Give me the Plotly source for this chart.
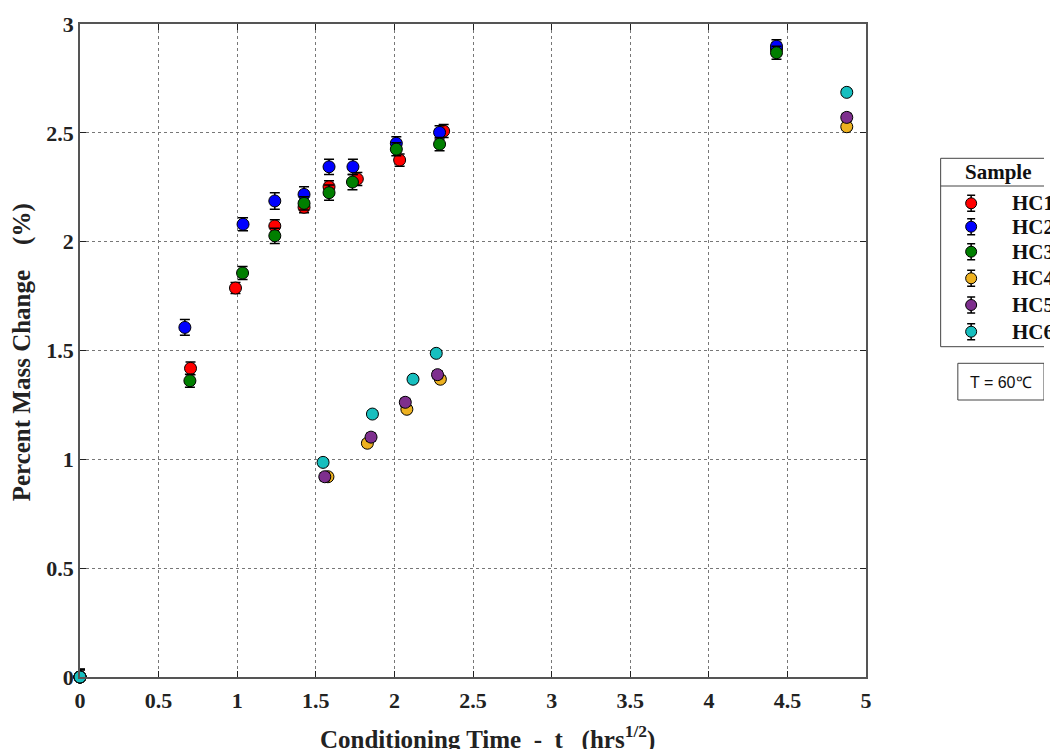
import plotly.graph_objects as go

# Conditioning time (sqrt hours) and percent mass change for each sample
t_hc1 = [0, 0.703, 0.989, 1.239, 1.425, 1.584, 1.764, 2.033, 2.313, 4.43]
m_hc1 = [0, 1.418, 1.787, 2.072, 2.158, 2.252, 2.288, 2.375, 2.508, 2.885]
e_hc1 = [0.035, 0.029, 0.025, 0.029, 0.025, 0.028, 0.030, 0.028, 0.030, 0.030]

t_hc2 = [0, 0.667, 1.037, 1.239, 1.425, 1.584, 1.736, 2.012, 2.287, 4.43]
m_hc2 = [0, 1.606, 2.080, 2.187, 2.217, 2.344, 2.344, 2.452, 2.502, 2.898]
e_hc2 = [0.035, 0.036, 0.030, 0.038, 0.035, 0.035, 0.035, 0.030, 0.030, 0.030]

t_hc3 = [0, 0.699, 1.034, 1.239, 1.425, 1.584, 1.733, 2.012, 2.287, 4.43]
m_hc3 = [0, 1.361, 1.856, 2.027, 2.176, 2.225, 2.274, 2.425, 2.448, 2.868]
e_hc3 = [0.035, 0.030, 0.030, 0.035, 0.030, 0.035, 0.035, 0.030, 0.030, 0.030]

t_hc4 = [0, 1.577, 1.828, 2.079, 2.292, 4.877]
m_hc4 = [0, 0.920, 1.074, 1.230, 1.368, 2.528]
e_hc4 = [0.035, 0.015, 0.015, 0.015, 0.015, 0.015]

t_hc5 = [0, 1.557, 1.851, 2.069, 2.274, 4.877]
m_hc5 = [0, 0.920, 1.102, 1.262, 1.389, 2.571]
e_hc5 = [0.035, 0.018, 0.018, 0.018, 0.018, 0.018]

t_hc6 = [0, 1.546, 1.860, 2.118, 2.266, 4.877]
m_hc6 = [0, 0.986, 1.208, 1.368, 1.487, 2.686]
e_hc6 = [0.035, 0.015, 0.015, 0.015, 0.015, 0.015]

sample_names = ["HC1", "HC2", "HC3", "HC4", "HC5", "HC6"]
sample_colors = ["#FF0000", "#0000FF", "#007F00", "#EDB120", "#7E2F8E", "#17BFBF"]

x_ticks = [0, 0.5, 1, 1.5, 2, 2.5, 3, 3.5, 4, 4.5, 5]
x_tick_text = ["0", "0.5", "1", "1.5", "2", "2.5", "3", "3.5", "4", "4.5", "5"]
y_ticks = [0, 0.5, 1, 1.5, 2, 2.5, 3]
y_tick_text = ["0", "0.5", "1", "1.5", "2", "2.5", "3"]

series = [
    (t_hc1, m_hc1, e_hc1),
    (t_hc2, m_hc2, e_hc2),
    (t_hc3, m_hc3, e_hc3),
    (t_hc4, m_hc4, e_hc4),
    (t_hc5, m_hc5, e_hc5),
    (t_hc6, m_hc6, e_hc6),
]

SERIF = "Liberation Serif, Times New Roman, serif"
SANS = "Liberation Sans, Arial, sans-serif"
W, H = 1050, 749
ML, MT, MB = 80, 24, 72
PLOT_RIGHT = 871  # right edge of the data frame in pixels
area_w = W - ML
area_h = H - MT - MB


def px_x(px):
    return (px - ML) / area_w


def px_y(py):
    return (H - MB - py) / area_h


fig = go.Figure()

for (t, m, e), name, col in zip(series, sample_names, sample_colors):
    fig.add_trace(go.Scatter(
        x=t, y=m, mode="markers", name=name, showlegend=False,
        cliponaxis=False,
        marker=dict(size=12, color=col, line=dict(color="black", width=1)),
        error_y=dict(type="data", array=e, visible=True,
                     color="black", thickness=1.5, width=5),
    ))

# Hand-built legend, drawn in a hidden pixel-space subplot to the right
LEG_X0 = 930
DX = 5  # horizontal offset of the legend block
key_x = 971.7 + DX
row_y = [203.3, 226.7, 251.7, 278.3, 305.0, 331.7]
fig.add_trace(go.Scatter(
    x=[key_x] * len(sample_names), y=row_y, mode="markers",
    xaxis="x2", yaxis="y2", showlegend=False, hoverinfo="skip",
    cliponaxis=False,
    marker=dict(size=11, color=sample_colors, line=dict(color="black", width=1)),
    error_y=dict(type="constant", value=8, visible=True,
                 color="black", thickness=1.5, width=4),
))

tick_font = dict(family=SERIF, size=22, color="#222", weight="bold")
title_font = dict(family=SERIF, size=25, color="#222", weight="bold")

fig.update_layout(
    width=W, height=H,
    margin=dict(l=ML, r=0, t=MT, b=MB),
    paper_bgcolor="white", plot_bgcolor="white",
    font=dict(family=SERIF, color="#222"),
    xaxis=dict(
        domain=[0, px_x(PLOT_RIGHT)],
        range=[0, 5], tickvals=x_ticks, ticktext=x_tick_text,
        showgrid=True, gridcolor="#777", griddash="dot", gridwidth=1,
        zeroline=False, showline=True, linecolor="#555", linewidth=1.5,
        mirror="ticks", ticks="inside", ticklen=6, tickcolor="#222",
        tickfont=tick_font, ticklabelstandoff=3,
    ),
    yaxis=dict(
        domain=[0, 1],
        range=[0, 3], tickvals=y_ticks, ticktext=y_tick_text,
        showgrid=True, gridcolor="#777", griddash="dot", gridwidth=1,
        zeroline=False, showline=True, linecolor="#555", linewidth=1.5,
        mirror="ticks", ticks="inside", ticklen=6, tickcolor="#222",
        tickfont=tick_font,
    ),
    xaxis2=dict(domain=[px_x(LEG_X0), 1], range=[LEG_X0, W],
                visible=False, anchor="y2", fixedrange=True),
    yaxis2=dict(domain=[0, 1], range=[H - MB, MT], visible=False,
                anchor="x2", fixedrange=True),
)

# Axis titles
fig.add_annotation(xref="paper", yref="paper", x=px_x(490), y=px_y(737),
                   text="<b>Conditioning Time  -  t   (hrs<sup>1/2</sup>)</b>",
                   showarrow=False, font=title_font,
                   xanchor="center", yanchor="middle")
fig.add_annotation(xref="paper", yref="paper", x=px_x(22), y=px_y(352),
                   text="<b>Percent Mass Change    (%)</b>", textangle=-90,
                   showarrow=False, font=title_font,
                   xanchor="center", yanchor="middle")

# Legend frame, header rule and text
fig.add_shape(type="rect", xref="x2", yref="y2", x0=941 + DX, x1=1080, y0=158.3, y1=346.7,
              line=dict(color="#444", width=1), fillcolor="rgba(0,0,0,0)", layer="below")
fig.add_shape(type="line", xref="x2", yref="y2", x0=941 + DX, x1=1080, y0=186, y1=186,
              line=dict(color="#444", width=1))
fig.add_annotation(xref="x2", yref="y2", x=999 + DX, y=172, text="<b>Sample</b>",
                   showarrow=False, font=dict(family=SERIF, size=21, color="#111"),
                   xanchor="center", yanchor="middle")
for name, yy in zip(sample_names, row_y):
    fig.add_annotation(xref="x2", yref="y2", x=1011 + DX, y=yy, text=f"<b>{name}</b>",
                       showarrow=False, font=dict(family=SERIF, size=21, color="#111"),
                       xanchor="left", yanchor="middle")

# Temperature note
fig.add_shape(type="rect", xref="x2", yref="y2", x0=958.3 + DX, x1=1045 + DX, y0=363.3, y1=400,
              line=dict(color="#444", width=1), fillcolor="rgba(0,0,0,0)")
fig.add_annotation(xref="x2", yref="y2", x=1001.5 + DX, y=382, text="T = 60℃",
                   showarrow=False, font=dict(family=SANS, size=16, color="#111"),
                   xanchor="center", yanchor="middle")

fig.write_html("out.html")
